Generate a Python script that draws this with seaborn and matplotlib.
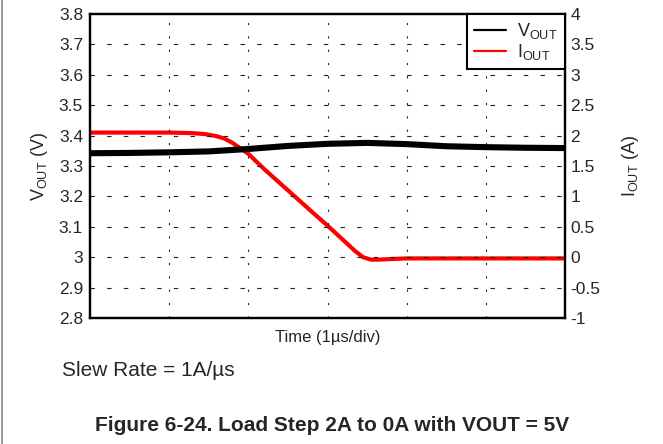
import pandas as pd
import matplotlib.pyplot as plt
import seaborn as sns
from matplotlib.lines import Line2D
from matplotlib.ticker import FuncFormatter

# Time in divisions (1 us/div)
time_vout = [0.0, 0.5, 1.0, 1.5, 2.0, 2.5, 3.0, 3.5, 4.0, 4.5, 5.0, 5.5, 6.0]
vout = [3.342, 3.343, 3.345, 3.348, 3.356, 3.366, 3.373, 3.376, 3.372, 3.365, 3.362, 3.360, 3.359]

time_iout = [0.0, 0.5, 1.0, 1.3, 1.45, 1.6, 1.7, 1.8, 1.9, 2.0, 2.2, 2.5, 2.8, 3.0,
             3.2, 3.35, 3.45, 3.55, 3.65, 3.8, 4.0, 5.0, 6.0]
iout = [2.05, 2.05, 2.05, 2.04, 2.025, 1.99, 1.95, 1.88, 1.79, 1.70, 1.45, 1.10, 0.75, 0.52,
        0.28, 0.10, 0.0, -0.04, -0.04, -0.03, -0.02, -0.02, -0.02]

vout_ticks = [2.8, 2.9, 3.0, 3.1, 3.2, 3.3, 3.4, 3.5, 3.6, 3.7, 3.8]
iout_ticks = [-1, -0.5, 0, 0.5, 1, 1.5, 2, 2.5, 3, 3.5, 4]
time_ticks = [0, 1, 2, 3, 4, 5, 6]


def plot_load_step():
    sns.set_style('white')
    plt.rcParams['font.family'] = ['Liberation Sans', 'DejaVu Sans']

    vout_df = pd.DataFrame({'t': time_vout, 'v': vout})
    iout_df = pd.DataFrame({'t': time_iout, 'i': iout})

    fig = plt.figure(figsize=(6.63, 4.44), dpi=100)
    ax1 = fig.add_axes([90 / 663, 126 / 444, 475 / 663, 304 / 444])
    ax2 = ax1.twinx()

    # Grid drawn by hand so the dash styles match the scope plot
    for v in vout_ticks[1:-1]:
        ax1.axhline(v, color='#222222', lw=0.8, dashes=(4, 11), zorder=0)
    for t in time_ticks[1:-1]:
        ax1.axvline(t, color='#222222', lw=0.8, dashes=(2, 10), zorder=0)

    sns.lineplot(data=vout_df, x='t', y='v', ax=ax1, color='black', lw=4.4,
                 legend=False)
    sns.lineplot(data=iout_df, x='t', y='i', ax=ax2, color='#ff0000', lw=3,
                 legend=False)

    ax1.set_xlim(0, 6)
    ax1.set_ylim(2.8, 3.8)
    ax2.set_ylim(-1, 4)
    ax1.set_xticks(time_ticks)
    ax1.set_xticklabels([])
    ax1.set_yticks(vout_ticks)
    ax2.set_yticks(iout_ticks)
    fmt = FuncFormatter(lambda x, pos: '%g' % round(x, 2))
    ax1.yaxis.set_major_formatter(fmt)
    ax2.yaxis.set_major_formatter(fmt)

    ax1.tick_params(axis='x', direction='in', length=3, width=0.8)
    ax1.tick_params(axis='y', length=0, labelsize=12.5, pad=5)
    ax2.tick_params(axis='y', length=0, labelsize=12.5, pad=4)

    for ax in (ax1, ax2):
        for s in ax.spines.values():
            s.set_visible(True)
            s.set_color('black')
            s.set_linewidth(1.6)

    ax1.set_xlabel('Time (1\u00b5s/div)', fontsize=12, labelpad=5)
    ax1.set_ylabel(r'$\mathregular{V_{OUT}}$ (V)', fontsize=13, labelpad=6)
    ax2.set_ylabel(r'$\mathregular{I_{OUT}}$ (A)', fontsize=13, labelpad=14)
    ax1.set_zorder(ax2.get_zorder() + 1)
    ax1.patch.set_visible(False)

    handles = [Line2D([], [], color='black', lw=1.6),
               Line2D([], [], color='#ff0000', lw=1.6)]
    leg = ax1.legend(handles, [r'$\mathregular{V_{OUT}}$', r'$\mathregular{I_{OUT}}$'],
                     loc='upper right', bbox_to_anchor=(1.0, 1.0), fontsize=13,
                     fancybox=False, framealpha=1, edgecolor='black',
                     borderaxespad=0, handlelength=1.8, labelspacing=0.05,
                     borderpad=0.4, handletextpad=0.6)
    leg.get_frame().set_linewidth(1.5)

    fig.text(62 / 663, 1 - 370 / 444, 'Slew Rate = 1A/\u00b5s', fontsize=15,
             ha='left', va='center')
    fig.text(332 / 663, 1 - 425 / 444, 'Figure 6-24. Load Step 2A to 0A with VOUT = 5V',
             fontsize=15, fontweight='bold', ha='center', va='center')
    fig.add_artist(Line2D([0.003, 0.003], [0, 1], color='#888888', lw=1.2))

    fig.savefig('out.png', dpi=100)


if __name__ == "__main__":
    plot_load_step()
